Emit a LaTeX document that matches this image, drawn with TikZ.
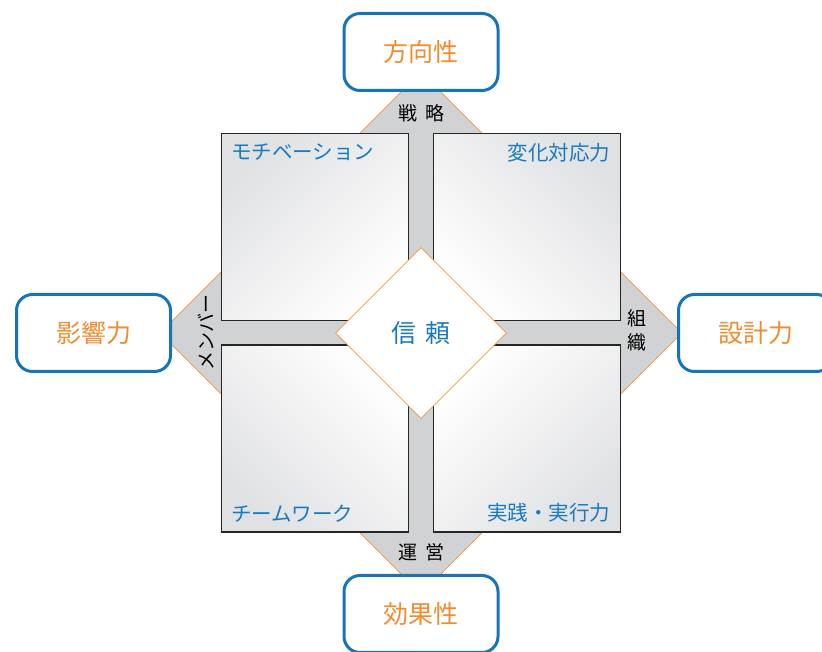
\documentclass[tikz,border=0pt]{standalone}
\usepackage{fontspec}
\setmainfont{Noto Sans CJK JP}
\usepackage{tikz}
\usetikzlibrary{shapes,positioning}
\definecolor{boxblue}{RGB}{22, 117, 186}
\definecolor{txtblue}{RGB}{24, 122, 190}
\definecolor{lorange}{RGB}{240, 140, 45}
\definecolor{edgeorange}{RGB}{243, 150, 60}
\definecolor{bandgray}{RGB}{209, 210, 212}
\definecolor{sqgray}{RGB}{224, 225, 227}
\tikzstyle{goal} = [rectangle, rounded corners=16pt, draw=boxblue, line width=3pt, fill=white, text=lorange, font=\fontsize{25pt}{30pt}\selectfont, minimum width=154pt, minimum height=77pt]
\tikzstyle{band} = [diamond, draw=edgeorange, line width=0.8pt, fill=bandgray, minimum size=522pt, inner sep=0pt]
\tikzstyle{core} = [diamond, draw=edgeorange, line width=0.8pt, fill=white, text=txtblue, font=\fontsize{25pt}{30pt}\selectfont, minimum size=171pt, inner sep=0pt]
\tikzstyle{quad} = [rectangle, draw=black!85, line width=1.2pt, top color=sqgray, bottom color=white, minimum size=187pt, inner sep=0pt]
\tikzstyle{quadtext} = [draw=none, fill=none, text=txtblue, font=\fontsize{20.5pt}{24pt}\selectfont, inner sep=0pt]
\tikzstyle{bandtext} = [draw=none, fill=none, text=black, align=center, font=\fontsize{19pt}{24pt}\selectfont, inner sep=0pt]

\begin{document}
\begin{tikzpicture}[x=1pt, y=1pt]
\useasboundingbox (0,0) rectangle (822,652);
\coordinate (mid) at (421,319);

% gray band behind =============================
\node[band] (rim) at (mid) {};

% quadrants
\node[quad, shading angle=45, above left=11.5pt and 12pt of mid] (tl) {};
\node[quad, shading angle=-45, above right=11.5pt and 12pt of mid] (tr) {};
\node[quad, shading angle=135, below left=11.5pt and 12pt of mid] (bl) {};
\node[quad, shading angle=-135, below right=11.5pt and 12pt of mid] (br) {};

% center
\node[core] (trust) at (mid) {信\hspace{9pt}頼};

% goals
\node[goal, above=241pt of mid] (dir) {方向性};
\node[goal, left=249pt of mid] (inf) {影響力};
\node[goal, right=256pt of mid] (des) {設計力};
\node[goal, below=241pt of mid] (eff) {効果性};

% text only
\node[quadtext, below right=10pt and 10pt of tl.north west] (motiv) {モチベーション};
\node[quadtext, below left=10pt and 11pt of tr.north east] (adapt) {変化対応力};
\node[quadtext, above right=10pt and 10pt of bl.south west] (team) {チームワーク};
\node[quadtext, above left=10pt and 11pt of br.south east] (exec) {実践・実行力};

\node[bandtext, below=12pt of dir] (strat) {戦\hspace{8pt}略};
\node[bandtext, above=13pt of eff] (ops) {運\hspace{8pt}営};
\node[bandtext, rotate=90, right=26pt of inf, anchor=north] (memb) {メンバー};
\node[bandtext, left=30pt of des, yshift=3pt] (org) {組\\織};

\end{tikzpicture}
\end{document}
